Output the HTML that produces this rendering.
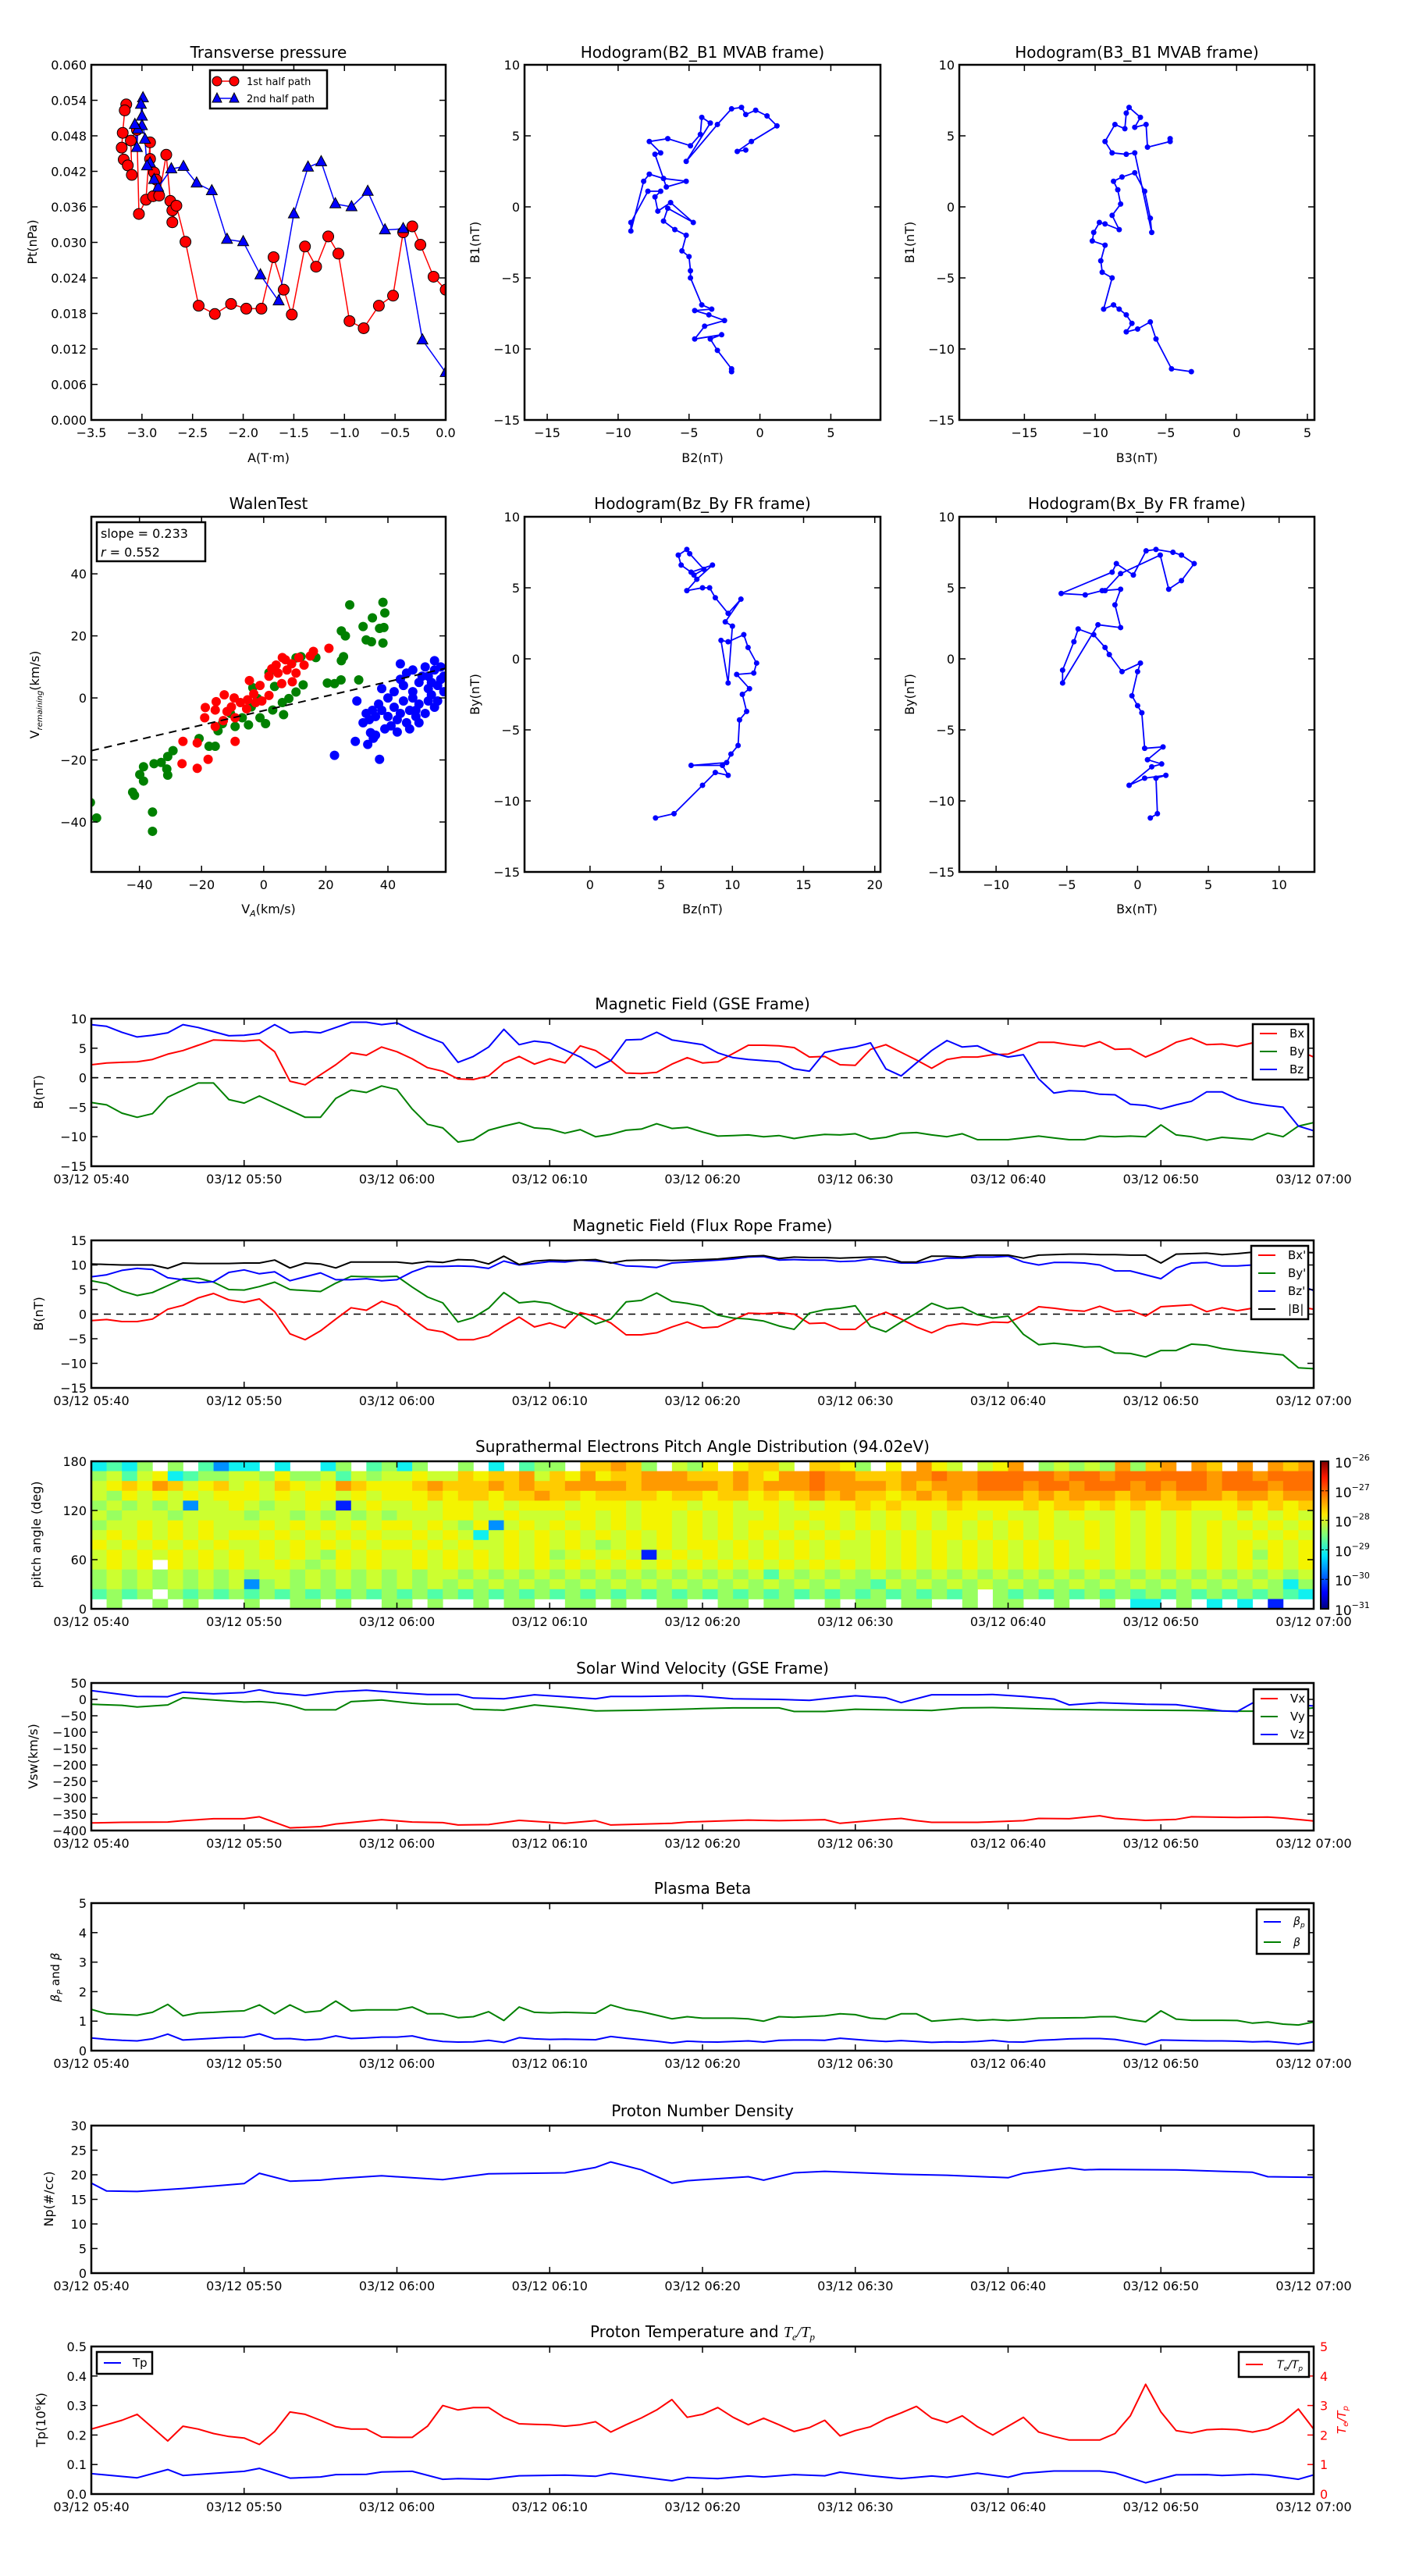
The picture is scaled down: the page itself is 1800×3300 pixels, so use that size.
<!DOCTYPE html>
<html><head><meta charset="utf-8"><title>Flux rope analysis figure</title>
<style>
html,body{margin:0;padding:0;background:#fff;}
svg{display:block;font-family:"DejaVu Sans","Liberation Sans",sans-serif;}
</style></head>
<body>
<svg id="fig" xmlns="http://www.w3.org/2000/svg" width="1800" height="3300" viewBox="0 0 1800 3300">
<rect x="0" y="0" width="1800" height="3300" fill="#fff"/>
<defs>
<linearGradient id="jet" x1="0" y1="1" x2="0" y2="0">
<stop offset="0" stop-color="#00007f"/><stop offset="0.11" stop-color="#0000ff"/><stop offset="0.36" stop-color="#00e5ff"/><stop offset="0.5" stop-color="#7dff7a"/><stop offset="0.64" stop-color="#ffe600"/><stop offset="0.89" stop-color="#ff1a00"/><stop offset="1" stop-color="#7f0000"/>
</linearGradient>
</defs>
</svg>
<script>
// ---------- Transverse pressure ----------
const pt1A=[-3.155,-3.17,-3.19,-3.2,-3.18,-3.14,-3.1,-3.11,-3.05,-3.03,-2.96,-2.92,-2.92,-2.88,-2.86,-2.89,-2.83,-2.76,-2.72,-2.7,-2.7,-2.66,-2.57,-2.44,-2.28,-2.12,-1.97,-1.82,-1.7,-1.6,-1.52,-1.39,-1.28,-1.16,-1.06,-0.95,-0.81,-0.66,-0.52,-0.42,-0.33,-0.25,-0.12,0];
const pt1P=[0.0533,0.0523,0.0485,0.046,0.044,0.043,0.0414,0.0472,0.049,0.0348,0.0372,0.0469,0.0441,0.0418,0.0406,0.0378,0.0379,0.0448,0.037,0.0354,0.0334,0.0362,0.0301,0.0193,0.0179,0.0196,0.0188,0.0188,0.0275,0.022,0.0178,0.0293,0.0259,0.031,0.0281,0.0167,0.0155,0.0193,0.021,0.0317,0.0327,0.0296,0.0242,0.022];
const pt2A=[0,-0.23,-0.42,-0.6,-0.77,-0.93,-1.09,-1.23,-1.36,-1.5,-1.65,-1.83,-2.0,-2.16,-2.31,-2.46,-2.59,-2.71,-2.84,-2.88,-2.92,-2.95,-2.97,-3.0,-2.99,-3.01,-3.0,-3.04,-3.05,-3.07];
const pt2P=[0.008,0.0135,0.0323,0.0321,0.0386,0.036,0.0365,0.0436,0.0427,0.0348,0.0201,0.0245,0.0301,0.0305,0.0387,0.04,0.0428,0.0424,0.0393,0.0406,0.0434,0.0429,0.0474,0.0513,0.0544,0.0533,0.0497,0.0491,0.046,0.0499];
// ---------- Hodograms ----------
const h1x=[-2.0,-2.0,-3.0,-3.5,-2.7,-4.6,-3.9,-2.5,-3.6,-4.6,-3.4,-4.1,-4.9,-4.9,-5.0,-5.5,-5.2,-6.0,-6.8,-6.5,-4.7,-6.3,-7.2,-7.4,-7.0,-7.9,-9.1,-9.1,-8.2,-7.8,-6.8,-5.2,-6.6,-7.4,-7.0,-7.8,-6.5,-4.9,-4.2,-4.1,-3.5,-5.2,-3.0,-2.0,-1.3,-1.0,-0.3,0.5,1.2,-0.6,-1.6,-1.0];
const h1y=[-11.6,-11.4,-10.1,-9.3,-9.0,-9.3,-8.4,-8.0,-7.6,-7.3,-7.2,-6.9,-5.0,-4.5,-3.5,-3.1,-2.0,-1.6,-1.0,-0.1,-1.1,0.3,-0.3,0.7,1.1,1.1,-1.1,-1.7,1.8,2.3,2.0,1.8,1.4,3.7,3.8,4.6,4.8,4.3,5.1,6.3,5.9,3.2,5.8,6.9,7.0,6.5,6.8,6.4,5.7,4.6,3.9,4.0];
const h2x=[-3.2,-4.6,-5.7,-6.1,-7.0,-7.8,-7.4,-7.8,-8.3,-8.7,-9.4,-8.8,-9.5,-9.6,-9.3,-10.2,-10.1,-9.7,-9.3,-8.3,-8.8,-8.2,-8.4,-8.7,-8.1,-7.2,-6.5,-6.1,-6.0,-7.2,-7.8,-8.8,-9.3,-8.6,-7.9,-7.8,-7.6,-6.8,-7.2,-6.4,-6.3,-4.7,-4.7];
const h2y=[-11.6,-11.4,-9.3,-8.1,-8.6,-8.8,-8.2,-7.6,-7.2,-6.9,-7.2,-5.0,-4.6,-3.8,-2.7,-2.4,-1.8,-1.1,-1.2,-1.6,-0.6,0.2,1.2,1.8,2.1,2.4,1.1,-0.8,-1.8,3.8,3.7,3.8,4.6,5.8,5.5,6.6,7.0,6.3,5.6,5.8,4.2,4.6,4.8];
const h3x=[4.6,5.9,7.9,8.8,9.7,9.3,7.1,9.6,9.9,10.4,10.5,11.0,10.7,11.2,10.3,11.5,11.7,11.1,10.8,9.7,9.2,9.7,10.0,9.5,10.6,9.7,8.8,8.4,7.9,6.8,7.5,8.6,7.1,6.4,6.2,6.8,7.0,8.0,7.3];
const h3y=[-11.2,-10.9,-8.9,-8.0,-8.2,-7.5,-7.5,-7.3,-6.7,-6.1,-4.3,-3.7,-2.5,-2.1,-1.1,-1.0,-0.3,0.8,1.7,1.2,1.3,-1.7,2.3,2.6,4.2,3.2,4.3,5.0,5.0,4.8,5.6,6.6,6.1,6.6,7.3,7.7,7.4,6.3,5.9];
const h4x=[0.9,1.4,1.3,2.0,0.5,-0.6,1.0,1.7,0.7,1.8,0.5,0.3,0.0,-0.4,0.0,0.2,-1.1,-2.0,-2.3,-3.1,-4.2,-4.5,-5.3,-5.3,-2.8,-1.2,-1.6,-1.2,-2.5,-3.7,-5.4,-1.8,-1.5,-0.3,0.6,1.3,2.5,3.1,4.0,3.1,2.2,1.6,-1.2,-2.3];
const h4y=[-11.2,-10.9,-8.4,-8.2,-8.4,-8.9,-7.6,-7.4,-7.1,-6.2,-6.3,-3.8,-3.3,-2.6,-0.9,-0.3,-0.9,0.3,0.8,1.7,2.1,1.2,-0.8,-1.7,2.4,2.2,3.8,4.9,4.8,4.5,4.6,6.1,6.7,5.9,7.6,7.7,7.5,7.3,6.7,5.5,4.9,7.3,6.0,4.8];
// ---------- Walen test ----------
const walenSlope=0.233, walenIntercept=-4.1;
const wRx=[21,16,15,9,6,4,2.6,4.6,7.5,10.4,9.2,5.8,1.7,-1.2,-4.6,-3.2,1.7,-0.6,-5.2,-7.5,-9.5,-12.7,-15.3,-18.8,-15.6,-11.8,-10.4,-9.2,-13,-19,-15.6,-21.4,-26,-17.9,-21.4,-26.3,-9.2,-5.5,-2.6,7,11.3,13];
const wRy=[16,15,13.5,11,13,10.6,9.4,8,9,8,5.2,4.6,7,4,5.6,1.3,0.8,-1,-0.6,-1.5,0,1,-1.2,-3.1,-3.9,-4.4,-2.9,-6.4,-7.3,-6.4,-9.2,-14.5,-14,-19.8,-22.7,-21.2,-14,-3.5,-1.5,12.3,13,10.6];
const wGx=[27.7,38.4,39,38.7,37.3,35,32,25,26.3,33,34.7,38.4,25.7,25,30.6,24.9,22.8,20.5,16.8,12,10.4,12.7,10.4,8.1,6,6.4,2.9,0.6,-1.2,-2,-3.5,-4,-4.9,-6.9,-9.2,-10.7,-13.3,-14.7,-17.6,-15.6,-20.8,-29.2,-30.9,-33,-35.3,-38.7,-39.9,-38.7,-42.2,-41.6,-31.2,-30.9,-35.8,-35.8,-53.8,-55.8,1.7,3.5];
const wGy=[30,30.8,27.4,22.7,22.4,25.8,23,21.6,20,18.7,18.1,17.7,13.3,12,5.8,5.8,4.6,4.8,13,13.3,12.9,4.2,1.9,-0.2,-1.5,-5.4,-3.9,-8.3,-6.4,-0.2,3.3,-2.9,-8.7,-6.4,-9.2,-5,-8.3,-10.6,-15.6,-15.6,-13.1,-17,-18.9,-20.8,-21.2,-22.2,-24.7,-26.8,-30.4,-31.4,-22.9,-24.9,-36.8,-43,-38.7,-33.7,8.1,3.7];
const wBx=[44,46,50,53,55,57,52,48,45,42,40,38,36,43,47,50,54,56,58,51,49,46,44,41,39,35,37,42,45,48,53,55,52,50,47,40,34,33,38,57,55,53,44,48,56,30,32,36,43,49,54,58,22.8,29.5,33.5,35.3,37.3,34.4];
const wBy=[11,8,5,3,9,6,10,2,-1,-3,0,-4,-6,-7,-4,-2,1,4,2,7,-6,-8,-5,-9,-10,-4,-2,2,4,0,-1,-3,-5,-8,-10,-6,-7,-5,3,10,12,7,6,9,-1,-1,-8,-12,-11,-4,5,7,-18.5,-14,-15,-13,-19.8,-11.2];
// ---------- Time series (minutes after 05:40) ----------
const timeTicks=[0,10,20,30,40,50,60,70,80];
const timeLabels=["03/12 05:40","03/12 05:50","03/12 06:00","03/12 06:10","03/12 06:20","03/12 06:30","03/12 06:40","03/12 06:50","03/12 07:00"];
const gseBx=[2.2,2.5,2.6,2.7,3.1,4.0,4.6,5.5,6.4,6.3,6.2,6.4,4.4,-0.6,-1.2,0.5,2.2,4.2,3.8,5.2,4.4,3.2,1.7,1.1,-0.2,-0.3,0.3,2.5,3.6,2.3,3.2,2.5,5.4,4.6,2.9,0.8,0.7,0.9,2.3,3.4,2.5,2.7,4.1,5.5,5.5,5.4,5.1,3.5,3.6,2.2,2.1,4.8,5.6,4.3,3.0,1.6,3.1,3.5,3.5,3.9,4.0,5.0,6.0,6.0,5.6,5.3,6.1,4.8,4.9,3.5,4.6,6.0,6.7,5.6,5.7,5.3,5.9,6.0,5.6,4.6,3.5];
const gseBy=[-4.2,-4.6,-6.0,-6.7,-6.1,-3.3,-2.1,-0.9,-0.9,-3.7,-4.3,-3.1,-4.3,-5.5,-6.7,-6.7,-3.5,-2.1,-2.5,-1.4,-2.0,-5.3,-7.9,-8.5,-10.9,-10.5,-8.9,-8.2,-7.6,-8.5,-8.7,-9.4,-8.8,-10.0,-9.6,-8.9,-8.7,-7.8,-8.6,-8.4,-9.2,-9.9,-9.8,-9.7,-10.0,-9.8,-10.3,-9.9,-9.6,-9.7,-9.5,-10.4,-10.1,-9.4,-9.3,-9.7,-10.0,-9.5,-10.5,-10.5,-10.5,-10.2,-9.9,-10.2,-10.5,-10.5,-9.9,-10.0,-9.9,-10.0,-8.0,-9.7,-10.0,-10.6,-10.1,-10.3,-10.5,-9.4,-10.0,-8.2,-7.6];
const gseBz=[9.0,8.7,7.7,6.9,7.2,7.6,9.0,8.5,7.8,7.1,7.2,7.5,9.0,7.6,7.8,7.6,8.5,9.4,9.4,9.0,9.3,8.0,6.9,5.9,2.6,3.6,5.2,8.2,5.6,6.2,5.9,4.7,3.5,1.7,2.9,6.4,6.5,7.7,6.4,6.0,5.6,4.2,3.4,3.1,2.9,2.7,1.5,1.1,4.3,4.8,5.2,5.9,1.5,0.3,2.5,4.6,6.3,5.2,5.4,4.2,3.5,3.9,-0.2,-2.6,-2.2,-2.3,-2.8,-2.9,-4.5,-4.7,-5.3,-4.6,-4.0,-2.4,-2.4,-3.6,-4.3,-4.7,-5.0,-8.2,-9.0];
const frBx=[-1.3,-1.1,-1.5,-1.5,-1.0,1.0,1.8,3.3,4.2,2.9,2.4,3.1,0.5,-4.0,-5.2,-3.4,-1.0,1.3,0.8,2.6,1.6,-0.9,-3.1,-3.6,-5.2,-5.2,-4.4,-2.4,-0.6,-2.6,-1.8,-2.8,0.3,-0.4,-1.8,-4.2,-4.2,-3.8,-2.6,-1.6,-2.8,-2.6,-1.2,0.2,0.1,0.3,0.0,-1.9,-1.8,-3.1,-3.1,-0.8,0.4,-1.0,-2.6,-3.8,-2.4,-1.9,-2.2,-1.6,-1.7,-0.3,1.5,1.2,0.8,0.6,1.6,0.5,0.8,-0.4,1.5,1.7,1.9,0.5,1.3,0.7,1.2,1.5,1.6,1.5,1.0];
const frBy=[6.8,6.2,4.7,3.8,4.4,5.8,7.2,7.3,6.5,5.0,4.9,5.6,6.5,5.0,4.8,4.6,6.3,7.7,7.6,7.6,7.7,5.5,3.5,2.3,-1.6,-0.7,1.2,4.4,2.3,2.6,2.2,0.8,-0.2,-2.0,-1.0,2.5,2.8,4.3,2.6,2.2,1.6,-0.2,-0.8,-1.0,-1.4,-2.4,-3.1,0.2,0.9,1.2,1.7,-2.5,-3.6,-1.6,0.2,2.2,1.1,1.4,-0.1,-0.8,-0.4,-4.1,-6.2,-5.9,-6.2,-6.7,-6.6,-7.9,-8.0,-8.7,-7.4,-7.4,-6.1,-6.3,-7.0,-7.4,-7.7,-8.0,-8.3,-10.9,-11.1];
const frBz=[7.6,8.0,8.9,9.3,9.1,7.4,7.0,6.4,6.6,8.5,9.0,8.2,8.6,6.8,7.6,8.4,7.0,7.0,7.2,6.8,7.0,8.6,9.7,9.7,9.8,9.7,9.3,10.8,10.0,10.3,10.7,10.6,11.0,10.8,10.5,9.8,9.7,9.5,10.4,10.6,10.8,11.0,11.2,11.6,11.7,11.0,11.1,11.0,11.0,10.7,10.8,11.2,10.8,10.4,10.4,10.8,11.4,11.4,11.6,11.6,11.8,10.6,10.0,10.5,10.5,10.4,10.0,8.8,8.8,8.0,7.2,9.4,10.4,10.5,9.8,9.8,10.0,10.3,10.5,6.0,4.8];
const frBt=[10.2,10.1,10.0,10.0,10.0,9.3,10.4,10.3,10.3,10.3,10.4,10.4,11.0,9.4,10.4,10.2,9.4,10.6,10.6,10.6,10.6,10.3,10.7,10.5,11.1,11.0,10.2,11.8,10.1,10.8,11.0,10.9,11.0,11.1,10.4,10.9,11.0,11.0,10.9,11.0,11.1,11.2,11.5,11.8,11.9,11.3,11.6,11.5,11.5,11.4,11.5,11.6,11.6,10.6,10.6,11.8,11.8,11.6,12.0,12.0,12.0,11.4,12.0,12.1,12.2,12.2,12.1,12.1,12.0,12.0,10.4,12.2,12.3,12.4,12.1,12.3,12.6,12.8,12.8,12.6,12.5];
// PAD levels per pitch-angle row (top row = 168-180 deg), one char per minute column: '.' = no data, 1..9,a,b = low..high
const padRows=[
"3435.5.4233.3..35.4535..5.3.455.88985.657.7886.8875.7.976.679.565659589.98.9.989",
"5646734556657556465667668788968797889998889879 9a9988899a99aaaaa9aa9aaaaaa9aa9aaab",
"6787986786768767987778988898988999989999989899 9a9999898999aaa9aa9aaa9a9aa9aaa9aa",
"6576767677767677676777878878898878888788788787898988789898999898999899899989989 9",
"5656562667656676167667677676777677767776776776767787877787777878878787887778787887",
"6566656666566565656566677667666776767767676676677676767677676676766767676676767676",
"5667676766676767676776765726767676767767676776767676767676767676676767676767676767",
"6767676767767676767667676367676767676767676767676767676776767676676767676766767676",
"7676767676676767676776767667676765676767767676767667676767676767676767676767676767",
"6767676767676765767667676767675676761676767676767667676767676767666767676767576766",
"6767.767676676567676676767676767676767676767676767676767676767676767676767676767676",
"5656565656566565656565665656565656565656565646565656565656565656565656565656565656",
"5656565656256565656565656565656565656565656565656554656565656565656565656565653565",
"4545.54545454545454545454545454545454545454545454545454545.5454545454545454545434544",
".5..5.5...5..55.5..55.5..5.55..55.5..55..55.55..5.55.55..5.55..5..5.33.5.3.3.1"
];
const padTicks=[0,60,120,180];
const cbarLabels=["-26","-27","-28","-29","-30","-31"];
const vxT=[0,2,5,6,8,10,11,13,15,16,19,21,23,24,26,28,31,33,34,38,39,43,45,48,49,52,53,54,55,58,61,62,64,66,67,69,71,72,75,77,78,80];
const vxV=[-377,-375,-374,-370,-364,-364,-358,-392,-388,-380,-367,-374,-376,-383,-382,-369,-378,-370,-383,-378,-374,-368,-370,-367,-378,-366,-363,-370,-375,-375,-370,-363,-364,-355,-363,-369,-366,-358,-360,-359,-362,-371];
const vyT=[0,2,3,5,6,8,10,11,12,13,14,16,17,19,21,22,24,25,27,29,31,33,36,40,42,45,46,48,50,52,54,55,57,59,63,66,69,72,75,78,80];
const vyV=[-15,-18,-23,-17,5,-2,-8,-7,-10,-18,-32,-32,-7,-2,-12,-15,-15,-30,-33,-17,-25,-35,-33,-28,-26,-26,-37,-37,-30,-32,-33,-34,-26,-25,-30,-32,-33,-34,-36,-36,-26];
const vzT=[0,2,3,5,6,8,10,11,12,13,14,16,18,20,22,24,25,27,29,31,33,34,36,39,40,42,45,47,49,50,52,53,55,58,59,61,63,64,66,69,71,74,75,76,78,80];
const vzV=[27,15,9,8,22,17,21,29,20,16,12,23,28,21,15,15,4,2,14,8,2,9,9,11,9,2,0,-3,7,11,5,-10,14,14,15,9,1,-17,-10,-15,-16,-35,-37,-11,-15,-20];
const betaT=[0,1,3,4,5,6,7,8,9,10,11,12,13,14,15,16,17,18,19,20,21,22,23,24,25,26,27,28,29,30,31,33,34,35,36,37,38,39,40,42,43,44,45,46,48,49,50,51,52,53,54,55,57,58,59,60,61,62,65,66,67,68,69,70,71,72,74,75,76,77,78,79,80];
const betaV=[1.4,1.25,1.2,1.3,1.57,1.18,1.28,1.3,1.33,1.35,1.55,1.25,1.55,1.3,1.35,1.68,1.35,1.38,1.38,1.38,1.48,1.25,1.25,1.12,1.15,1.32,1.02,1.48,1.3,1.28,1.3,1.27,1.55,1.4,1.32,1.2,1.08,1.15,1.1,1.1,1.08,1.0,1.15,1.13,1.18,1.25,1.22,1.1,1.07,1.25,1.25,1.0,1.08,1.02,1.05,1.02,1.05,1.1,1.12,1.15,1.15,1.05,0.98,1.35,1.07,1.03,1.03,1.02,0.93,0.97,0.9,0.87,0.97];
const betaP=[0.43,0.38,0.35,0.33,0.4,0.56,0.36,0.39,0.42,0.45,0.46,0.57,0.4,0.41,0.36,0.39,0.5,0.41,0.43,0.46,0.46,0.5,0.38,0.31,0.29,0.3,0.35,0.28,0.44,0.4,0.38,0.39,0.38,0.37,0.48,0.42,0.37,0.32,0.26,0.32,0.3,0.29,0.31,0.33,0.29,0.35,0.36,0.36,0.35,0.42,0.38,0.34,0.31,0.34,0.31,0.28,0.3,0.29,0.31,0.35,0.3,0.29,0.35,0.37,0.4,0.41,0.41,0.38,0.3,0.2,0.36,0.35,0.34,0.33,0.33,0.32,0.3,0.31,0.27,0.22,0.3];
const npT=[0,1,3,6,8,10,11,13,15,16,19,23,24,26,31,33,34,36,38,39,43,44,46,48,53,56,60,61,64,65,66,71,74,76,77,80];
const npV=[18.3,16.7,16.6,17.2,17.7,18.2,20.3,18.7,18.9,19.2,19.8,19.0,19.4,20.2,20.4,21.5,22.6,21.0,18.3,18.8,19.6,18.9,20.4,20.7,20.1,19.9,19.4,20.3,21.4,21.0,21.1,21.0,20.7,20.5,19.6,19.5];
const tpT=[0,3,5,6,8,10,11,13,15,16,18,19,21,23,24,26,28,31,33,34,36,38,39,41,43,44,46,48,49,51,53,55,56,58,60,61,63,66,67,69,71,73,74,76,77,79,80];
const tpV=[0.069,0.055,0.083,0.063,0.07,0.077,0.087,0.054,0.058,0.066,0.067,0.075,0.077,0.05,0.052,0.05,0.062,0.064,0.06,0.07,0.058,0.045,0.056,0.052,0.061,0.058,0.066,0.062,0.074,0.062,0.052,0.061,0.057,0.071,0.057,0.07,0.078,0.078,0.072,0.038,0.065,0.066,0.063,0.067,0.064,0.05,0.065];
const teTp=[2.2,2.35,2.5,2.7,2.25,1.8,2.3,2.2,2.05,1.95,1.9,1.68,2.12,2.78,2.7,2.5,2.28,2.2,2.2,1.93,1.92,1.92,2.3,3.0,2.85,2.93,2.93,2.6,2.38,2.36,2.35,2.3,2.35,2.45,2.1,2.35,2.58,2.85,3.2,2.6,2.7,2.93,2.6,2.35,2.57,2.35,2.12,2.25,2.5,1.97,2.15,2.28,2.55,2.75,2.97,2.58,2.42,2.65,2.28,2.0,2.3,2.6,2.1,1.95,1.83,1.83,1.83,2.05,2.65,3.72,2.78,2.15,2.07,2.18,2.2,2.18,2.1,2.2,2.45,2.88,2.2];

const NS="http://www.w3.org/2000/svg";
const svg=document.getElementById('fig');
function mk(tag,attrs,parent){const e=document.createElementNS(NS,tag);for(const k in attrs)e.setAttribute(k,attrs[k]);(parent||svg).appendChild(e);return e;}
function tag(e,n,i){


}
function txt(x,y,s,o,parent){o=o||{};const t=mk('text',{x:x,y:y,'font-size':o.fs||16,'text-anchor':o.anchor||'middle',fill:o.fill||'#000'},parent);if(o.rot)t.setAttribute('transform','rotate(-90 '+x+' '+y+')');if(o.baseline)t.setAttribute('dominant-baseline',o.baseline);if(o.italic)t.setAttribute('font-style','italic');t.textContent=s;return t;}
const fmtMinus=s=>String(s).replace('-','\u2212');
let clipN=0;
function axes(o){
 const g=mk('g',{});
 tag(g,o.name);
 const sx=v=>o.x+(v-o.xmin)/(o.xmax-o.xmin)*o.w;
 const sy=v=>o.y+o.h-(v-o.ymin)/(o.ymax-o.ymin)*o.h;
 clipN++;
 const cp=mk('clipPath',{id:'clip'+clipN},g);
 mk('rect',{x:o.x,y:o.y,width:o.w,height:o.h},cp);
 const plot=mk('g',{'clip-path':'url(#clip'+clipN+')'},g);
 return {sx,sy,g,plot,o};
}
function frame(a){
 const o=a.o,g=a.g;
 const tk=8;
 (o.xt||[]).forEach((v,i)=>{const X=a.sx(v);
  mk('line',{x1:X,y1:o.y+o.h,x2:X,y2:o.y+o.h-tk,stroke:'#000','stroke-width':1.5},g);
  mk('line',{x1:X,y1:o.y,x2:X,y2:o.y+tk,stroke:'#000','stroke-width':1.5},g);
  const t=txt(X,o.y+o.h+22,o.xl[i],{fs:16},g);
  tag(t,'x-tick-label');
 });
 (o.yt||[]).forEach((v,i)=>{const Y=a.sy(v);
  mk('line',{x1:o.x,y1:Y,x2:o.x+tk,y2:Y,stroke:'#000','stroke-width':1.5},g);
  mk('line',{x1:o.x+o.w,y1:Y,x2:o.x+o.w-tk,y2:Y,stroke:o.rtc||'#000','stroke-width':1.5},g);
  const t=txt(o.x-6,Y+6,o.yl[i],{fs:16,anchor:'end'},g);
  tag(t,'y-tick-label');
 });
 const r=mk('rect',{x:o.x,y:o.y,width:o.w,height:o.h,fill:'none',stroke:'#000','stroke-width':2.5},g);
 tag(r,'plot-frame');
}
function line(a,xs,ys,color,name,w){
 const pts=xs.map((v,i)=>a.sx(v).toFixed(1)+','+a.sy(ys[i]).toFixed(1)).join(' ');
 const p=mk('polyline',{points:pts,fill:'none',stroke:color,'stroke-width':w||2,'stroke-linejoin':'round'},a.plot);
 tag(p,name);
 return p;
}
function dots(a,xs,ys,color,r,name){
 const gg=mk('g',{},a.plot);
 tag(gg,name);
 xs.forEach((v,i)=>{const c=mk('circle',{cx:a.sx(v),cy:a.sy(ys[i]),r:r,fill:color},gg);
 
 });
}
function title(x,y,s,name){const t=txt(x,y,s,{fs:20});tag(t,name);return t;}
function ylab(x,y,s,name,o){o=o||{};const t=txt(x,y,s,{fs:o.fs||16,rot:true,fill:o.fill});tag(t,name);return t;}
function legendBox(x,y,w,h,name){const r=mk('rect',{x:x,y:y,width:w,height:h,fill:'#fff',stroke:'#000','stroke-width':2.5});tag(r,name);return r;}
const range=(a,b,s)=>{const r=[];for(let v=a;v<=b+1e-9;v+=s)r.push(+v.toFixed(6));return r;};

// ===== Transverse pressure =====
{
 const xt=range(-3.5,0,0.5), yt=range(0,0.06,0.006);
 const a=axes({name:'transverse-pressure-plot',x:117,y:83,w:454,h:455,xmin:-3.5,xmax:0,ymin:0,ymax:0.06,xt:xt,xl:xt.map(v=>fmtMinus(v.toFixed(1))),yt:yt,yl:yt.map(v=>v.toFixed(3))});
 line(a,pt1A,pt1P,'#ff0000','first-half-path-line',1.5);
 line(a,pt2A,pt2P,'#0000ff','second-half-path-line',1.5);
 const gg=mk('g',{},a.plot);
 tag(gg,'first-half-path-markers');
 pt1A.forEach((v,i)=>{mk('circle',{cx:a.sx(v),cy:a.sy(pt1P[i]),r:7,fill:'#ff0000',stroke:'#000','stroke-width':1},gg);});
 const gb=mk('g',{},a.plot);
 tag(gb,'second-half-path-markers');
 pt2A.forEach((v,i)=>{const X=a.sx(v),Y=a.sy(pt2P[i]);mk('polygon',{points:(X)+','+(Y-8)+' '+(X-7)+','+(Y+5)+' '+(X+7)+','+(Y+5),fill:'#0000ff',stroke:'#000','stroke-width':1},gb);});
 frame(a);
 title(344,74,'Transverse pressure','transverse-pressure-title');
 const xl=txt(344,592,'A(T\u00b7m)',{fs:16});tag(xl,'x-axis-title');
 ylab(47,310,'Pt(nPa)','y-axis-title');
 legendBox(269,90,150,49,'pressure-legend');
 mk('line',{x1:274,y1:104,x2:304,y2:104,stroke:'#ff0000','stroke-width':1.5});
 mk('circle',{cx:278,cy:104,r:6,fill:'#ff0000',stroke:'#000'});mk('circle',{cx:300,cy:104,r:6,fill:'#ff0000',stroke:'#000'});
 let t=txt(316,109,'1st half path',{fs:13,anchor:'start'});tag(t,'legend-entry-first-half');
 mk('line',{x1:274,y1:126,x2:304,y2:126,stroke:'#0000ff','stroke-width':1.5});
 mk('polygon',{points:'278,119 272,131 284,131',fill:'#0000ff',stroke:'#000'});mk('polygon',{points:'300,119 294,131 306,131',fill:'#0000ff',stroke:'#000'});
 t=txt(316,131,'2nd half path',{fs:13,anchor:'start'});tag(t,'legend-entry-second-half');
}
// ===== Hodograms =====
function hodo(o,xs,ys){
 const a=axes({name:o.name,x:o.x,y:o.y,w:o.w,h:o.h,xmin:o.xmin,xmax:o.xmax,ymin:-15,ymax:10,xt:o.xt,xl:o.xt.map(v=>fmtMinus(v)),yt:[-15,-10,-5,0,5,10],yl:['\u221215','\u221210','\u22125','0','5','10']});
 line(a,xs,ys,'#0000ff',o.name+'-path',1.8);
 dots(a,xs,ys,'#0000ff',3.5,o.name+'-samples');
 frame(a);
 title(o.x+o.w/2,o.ty,o.title,o.name+'-title');
 const xl=txt(o.x+o.w/2,o.xly,o.xlab,{fs:16});tag(xl,'x-axis-title');
 ylab(o.ylx,o.y+o.h/2,o.ylab,'y-axis-title');
}
hodo({name:'hodogram-b2-b1',x:672,y:83,w:456,h:455,xmin:-16.6,xmax:8.5,xt:[-15,-10,-5,0,5],title:'Hodogram(B2_B1 MVAB frame)',ty:74,xly:592,xlab:'B2(nT)',ylx:614,ylab:'B1(nT)'},h1x,h1y);
hodo({name:'hodogram-b3-b1',x:1229,y:83,w:455,h:455,xmin:-19.6,xmax:5.5,xt:[-15,-10,-5,0,5],title:'Hodogram(B3_B1 MVAB frame)',ty:74,xly:592,xlab:'B3(nT)',ylx:1171,ylab:'B1(nT)'},h2x,h2y);
hodo({name:'hodogram-bz-by',x:672,y:662,w:456,h:455,xmin:-4.6,xmax:20.4,xt:[0,5,10,15,20],title:'Hodogram(Bz_By FR frame)',ty:652,xly:1170,xlab:'Bz(nT)',ylx:614,ylab:'By(nT)'},h3x,h3y);
hodo({name:'hodogram-bx-by',x:1229,y:662,w:455,h:455,xmin:-12.6,xmax:12.5,xt:[-10,-5,0,5,10],title:'Hodogram(Bx_By FR frame)',ty:652,xly:1170,xlab:'Bx(nT)',ylx:1171,ylab:'By(nT)'},h4x,h4y);
// ===== Walen test =====
{
 const a=axes({name:'walen-test-plot',x:117,y:662,w:454,h:455,xmin:-55.5,xmax:58.6,ymin:-56.1,ymax:58.4,xt:[-40,-20,0,20,40],xl:['\u221240','\u221220','0','20','40'],yt:[-40,-20,0,20,40],yl:['\u221240','\u221220','0','20','40']});
 dots(a,wGx,wGy,'#008000',6,'walen-green-points');
 dots(a,wRx,wRy,'#ff0000',6,'walen-red-points');
 dots(a,wBx,wBy,'#0000ff',6,'walen-blue-points');
 const fx=[-55.5,58.6];
 line(a,fx,fx.map(v=>walenIntercept+walenSlope*v),'#000','walen-fit-line',2).setAttribute('stroke-dasharray','10,7');
 frame(a);
 title(344,652,'WalenTest','walen-title');
 const xl=txt(344,1170,'',{fs:16});tag(xl,'x-axis-title');
 xl.innerHTML='V<tspan font-size="11" font-style="italic" dy="4">A</tspan><tspan dy="-4">(km/s)</tspan>';
 const yl=txt(50,890,'',{fs:16,rot:true});tag(yl,'y-axis-title');
 yl.innerHTML='V<tspan font-size="10" font-style="italic" dy="4">remaining</tspan><tspan dy="-4">(km/s)</tspan>';
 legendBox(124,669,139,50,'walen-stats-box');
 let t=txt(129,689,'slope = 0.233',{fs:16,anchor:'start'});tag(t,'slope-label');
 t=txt(129,713,'',{fs:16,anchor:'start'});tag(t,'r-label');
 t.innerHTML='<tspan font-style="italic">r</tspan> = 0.552';
}
// ===== Time-series panels =====
const TX=117,TW=1566,TH=189;
function tsAxes(name,y,ymin,ymax,yt,yl,extra){
 return axes(Object.assign({name:name,x:TX,y:y,w:TW,h:TH,xmin:0,xmax:80,ymin:ymin,ymax:ymax,xt:timeTicks,xl:timeLabels,yt:yt,yl:yl},extra||{}));
}
function tsLegend(x,y,w,h,items,name){
 legendBox(x,y,w,h,name);
 items.forEach((it,i)=>{const Y=y+12+i*23;
  mk('line',{x1:x+9,y1:Y,x2:x+31,y2:Y,stroke:it[1],'stroke-width':2});
  const t=txt(x+47,Y+5,'',{fs:15,anchor:'start'});tag(t,'legend-entry');t.innerHTML=it[0];
 });
}
const idx81=gseBx.map((v,i)=>i);
{
 const a=tsAxes('gse-field-plot',1305,-15,10,[-15,-10,-5,0,5,10],['\u221215','\u221210','\u22125','0','5','10']);
 line(a,[0,80],[0,0],'#000','zero-line',1.5).setAttribute('stroke-dasharray','9,7');
 line(a,idx81,gseBx,'#ff0000','bx-line');line(a,idx81,gseBy,'#008000','by-line');line(a,idx81,gseBz,'#0000ff','bz-line');
 frame(a);
 title(900,1293,'Magnetic Field (GSE Frame)','gse-field-title');
 ylab(55,1399,'B(nT)','y-axis-title');
 tsLegend(1605,1312,71,71,[['Bx','#ff0000'],['By','#008000'],['Bz','#0000ff']],'gse-legend');
}
{
 const a=tsAxes('flux-rope-field-plot',1589,-15,15,[-15,-10,-5,0,5,10,15],['\u221215','\u221210','\u22125','0','5','10','15']);
 line(a,[0,80],[0,0],'#000','zero-line',1.5).setAttribute('stroke-dasharray','9,7');
 line(a,idx81,frBx,'#ff0000','bx-prime-line');line(a,idx81,frBy,'#008000','by-prime-line');line(a,idx81,frBz,'#0000ff','bz-prime-line');line(a,idx81,frBt,'#000','btotal-line');
 frame(a);
 title(900,1577,'Magnetic Field (Flux Rope Frame)','flux-rope-field-title');
 ylab(55,1683,'B(nT)','y-axis-title');
 tsLegend(1603,1596,73,94,[["Bx'",'#ff0000'],["By'",'#008000'],["Bz'",'#0000ff'],['|B|','#000']],'flux-rope-legend');
}
{
 const a=tsAxes('pitch-angle-plot',1872,0,180,padTicks,padTicks.map(String));
 const cmap={'1':'#0020ff','2':'#0090ff','3':'#10f0f0','4':'#50ffa8','5':'#98ff60','6':'#ccff30','7':'#f4f400','8':'#ffcc00','9':'#ff9a00','a':'#ff7000','b':'#e82000'};
 const nR=padRows.length, cellH=180/nR;
 const gg=mk('g',{},a.plot);
 tag(gg,'pitch-angle-heatmap');
 padRows.forEach((row,ri)=>{const s=row.replace(/ /g,'');
  for(let c=0;c<80;c++){const ch=s[c];if(!ch||ch==='.'||!cmap[ch])continue;
   const x0=a.sx(c),x1=a.sx(c+1),y0=a.sy(180-ri*cellH),y1=a.sy(180-(ri+1)*cellH);
   const r=mk('rect',{x:x0.toFixed(2),y:y0.toFixed(2),width:(x1-x0+0.4).toFixed(2),height:(y1-y0+0.4).toFixed(2),fill:cmap[ch]},gg);
   
   
  }});
 frame(a);
 title(900,1860,'Suprathermal Electrons Pitch Angle Distribution (94.02eV)','pitch-angle-title');
 ylab(52,1966,'pitch angle (deg)','y-axis-title');
 const cb=mk('rect',{x:1692,y:1872,width:10,height:189,fill:'url(#jet)',stroke:'#000','stroke-width':2});tag(cb,'colorbar');
 cbarLabels.forEach((s,i)=>{const Y=1872+i*189/5;
  mk('line',{x1:1692,y1:Y,x2:1696,y2:Y,stroke:'#000'});mk('line',{x1:1702,y1:Y,x2:1698,y2:Y,stroke:'#000'});
  const t=txt(1710,Y+8,'',{fs:17,anchor:'start'});tag(t,'colorbar-label');
  t.innerHTML='10<tspan font-size="11" dy="-9">'+fmtMinus(s)+'</tspan>';});
}
{
 const yt=range(-400,50,50);
 const a=tsAxes('solar-wind-velocity-plot',2156,-400,50,yt,yt.map(fmtMinus));
 line(a,vxT,vxV,'#ff0000','vx-line');line(a,vyT,vyV,'#008000','vy-line');line(a,vzT,vzV,'#0000ff','vz-line');
 frame(a);
 title(900,2144,'Solar Wind Velocity (GSE Frame)','velocity-title');
 ylab(48,2250,'Vsw(km/s)','y-axis-title');
 tsLegend(1606,2164,70,70,[['Vx','#ff0000'],['Vy','#008000'],['Vz','#0000ff']],'velocity-legend');
}
{
 const yt=[0,1,2,3,4,5];
 const a=tsAxes('plasma-beta-plot',2438,0,5,yt,yt.map(String));
 line(a,betaT,betaV,'#008000','beta-line');line(a,idx81,betaP,'#0000ff','beta-p-line');
 frame(a);
 title(900,2426,'Plasma Beta','plasma-beta-title');
 const yl=txt(76,2533,'',{fs:15,rot:true});tag(yl,'y-axis-title');
 yl.innerHTML='<tspan font-style="italic">\u03b2</tspan><tspan font-size="10" font-style="italic" dy="4">P</tspan><tspan dy="-4"> and </tspan><tspan font-style="italic">\u03b2</tspan>';
 legendBox(1610,2446,67,57,'plasma-beta-legend');
 mk('line',{x1:1619,y1:2462,x2:1641,y2:2462,stroke:'#0000ff','stroke-width':2});
 let t=txt(1657,2466,'',{fs:14,anchor:'start'});tag(t,'legend-entry');t.innerHTML='<tspan font-style="italic">\u03b2</tspan><tspan font-size="9" dy="3" font-style="italic">p</tspan>';
 mk('line',{x1:1619,y1:2488,x2:1641,y2:2488,stroke:'#008000','stroke-width':2});
 t=txt(1657,2493,'\u03b2',{fs:14,anchor:'start',italic:true});tag(t,'legend-entry');
}
{
 const yt=[0,5,10,15,20,25,30];
 const a=tsAxes('proton-density-plot',2723,0,30,yt,yt.map(String));
 line(a,npT,npV,'#0000ff','density-line');
 frame(a);
 title(900,2711,'Proton Number Density','density-title');
 ylab(68,2817,'Np(#/cc)','y-axis-title');
}
{
 const yt=[0,0.1,0.2,0.3,0.4,0.5];
 const a=tsAxes('proton-temperature-plot',3006,0,0.5,yt,yt.map(v=>v.toFixed(1)),{rtc:'#ff0000'});
 line(a,idx81,teTp.map(v=>v/10),'#ff0000','te-tp-line');
 line(a,tpT,tpV,'#0000ff','tp-line');
 frame(a);
 [0,1,2,3,4,5].forEach(v=>{const t=txt(TX+TW+8,a.sy(v/10)+6,String(v),{fs:16,anchor:'start',fill:'#ff0000'});tag(t,'right-tick-label');});
 const tt=txt(900,2994,'',{fs:20});tag(tt,'temperature-title');
 tt.innerHTML='Proton Temperature and <tspan font-style="italic" font-family="Liberation Serif">T<tspan font-size="13" dy="4">e</tspan><tspan dy="-4">/T</tspan><tspan font-size="13" dy="4">p</tspan></tspan>';
 const yl=txt(58,3100,'',{fs:16,rot:true});tag(yl,'y-axis-title');
 yl.innerHTML='Tp(10<tspan font-size="10" dy="-6">6</tspan><tspan dy="6">K)</tspan>';
 const yr=txt(1724,3100,'',{fs:15,rot:true,fill:'#ff0000'});tag(yr,'right-axis-title');
 yr.innerHTML='<tspan font-style="italic">T<tspan font-size="10" dy="3">e</tspan><tspan dy="-3">/T</tspan><tspan font-size="10" dy="3">p</tspan></tspan>';
 legendBox(124,3013,71,28,'tp-legend');
 mk('line',{x1:133,y1:3027,x2:155,y2:3027,stroke:'#0000ff','stroke-width':2});
 let t=txt(170,3032,'Tp',{fs:15,anchor:'start'});tag(t,'legend-entry');
 legendBox(1587,3013,90,32,'te-tp-legend');
 mk('line',{x1:1596,y1:3029,x2:1618,y2:3029,stroke:'#ff0000','stroke-width':2});
 t=txt(1636,3034,'',{fs:14,anchor:'start'});tag(t,'legend-entry');
 t.innerHTML='<tspan font-style="italic">T<tspan font-size="9" dy="3">e</tspan><tspan dy="-3">/T</tspan><tspan font-size="9" dy="3">p</tspan></tspan>';
}
</script>
</body></html>
